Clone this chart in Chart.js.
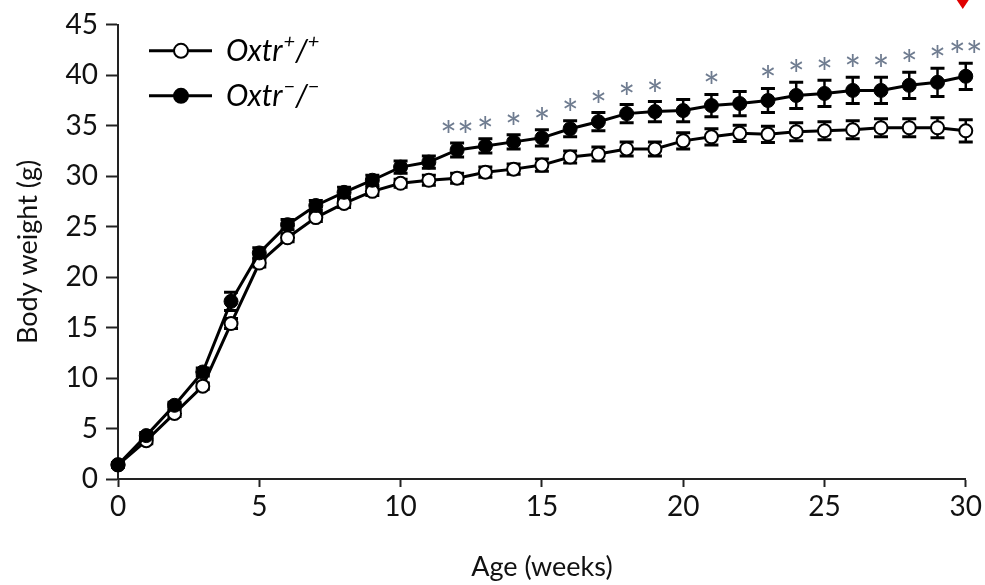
<!DOCTYPE html>
<html>
<head>
<meta charset="utf-8">
<script src="https://cdn.jsdelivr.net/npm/chart.js@4/dist/chart.umd.min.js"></script>
<style>
  html, body { margin: 0; padding: 0; background: #fff; }
  #chart { display: block; }
</style>
</head>
<body>
<canvas id="chart" width="985" height="585"></canvas>
<script>
// Data
const weeks = [0,1,2,3,4,5,6,7,8,9,10,11,12,13,14,15,16,17,18,19,20,21,22,23,24,25,26,27,28,29,30];
const wildType = [1.4, 3.8, 6.5, 9.2, 15.4, 21.4, 23.9, 25.9, 27.3, 28.5, 29.3, 29.6, 29.8, 30.4, 30.7, 31.1, 31.9, 32.2, 32.7, 32.7, 33.5, 33.9, 34.25, 34.15, 34.4, 34.5, 34.6, 34.8, 34.8, 34.8, 34.5];
const wildTypeErr = [0.2, 0.3, 0.3, 0.3, 0.5, 0.4, 0.4, 0.4, 0.4, 0.4, 0.4, 0.5, 0.5, 0.5, 0.5, 0.6, 0.6, 0.7, 0.7, 0.7, 0.8, 0.8, 0.8, 0.8, 0.9, 0.9, 0.9, 0.9, 0.9, 1.0, 1.1];
const knockout = [1.4, 4.3, 7.3, 10.6, 17.6, 22.4, 25.2, 27.1, 28.4, 29.6, 30.9, 31.4, 32.6, 33.0, 33.4, 33.8, 34.7, 35.4, 36.2, 36.4, 36.5, 37.0, 37.2, 37.5, 38.0, 38.2, 38.5, 38.5, 39.0, 39.3, 39.9];
const knockoutErr = [0.2, 0.3, 0.3, 0.4, 0.9, 0.5, 0.5, 0.5, 0.5, 0.5, 0.6, 0.6, 0.7, 0.7, 0.7, 0.8, 0.8, 0.9, 0.9, 1.0, 1.1, 1.1, 1.2, 1.2, 1.3, 1.3, 1.3, 1.3, 1.3, 1.4, 1.3];
const sigWeeks = [12, 13, 14, 15, 16, 17, 18, 19, 21, 23, 24, 25, 26, 27, 28, 29, 30];
const sigLabels = ['**', '*', '*', '*', '*', '*', '*', '*', '*', '*', '*', '*', '*', '*', '*', '*', '**'];
const xTicks = [0, 5, 10, 15, 20, 25, 30];
const yTicks = [0, 5, 10, 15, 20, 25, 30, 35, 40, 45];

const FONT = 'Lato, "Open Sans", sans-serif';

function toPoints(ys) {
    return weeks.map((w, i) => ({ x: w, y: ys[i] }));
}

// Error bars, drawn under the markers
const errorBars = {
    id: 'errorBars',
    beforeDatasetsDraw(chart) {
        const ctx = chart.ctx;
        const xs = chart.scales.x, ys = chart.scales.y;
        const sets = [[wildType, wildTypeErr], [knockout, knockoutErr]];
        ctx.save();
        ctx.strokeStyle = '#000';
        sets.forEach(([vals, errs]) => {
            weeks.forEach((w, i) => {
                const px = xs.getPixelForValue(w);
                const top = ys.getPixelForValue(vals[i] + errs[i]);
                const bot = ys.getPixelForValue(vals[i] - errs[i]);
                ctx.lineWidth = 2.5;
                ctx.beginPath();
                ctx.moveTo(px, top); ctx.lineTo(px, bot);
                ctx.stroke();
                ctx.lineWidth = 3;
                ctx.beginPath();
                ctx.moveTo(px - 7, top); ctx.lineTo(px + 7, top);
                ctx.moveTo(px - 7, bot); ctx.lineTo(px + 7, bot);
                ctx.stroke();
            });
        });
        ctx.restore();
    }
};

// Significance asterisks above the knockout error bars, plus legend
const extras = {
    id: 'extras',
    afterDatasetsDraw(chart) {
        const ctx = chart.ctx;
        const xs = chart.scales.x, ys = chart.scales.y;
        ctx.save();
        ctx.fillStyle = '#6f7c90';
        ctx.font = '40px ' + FONT;
        ctx.textAlign = 'center';
        ctx.textBaseline = 'alphabetic';
        sigWeeks.forEach((w, i) => {
            const idx = weeks.indexOf(w);
            const px = xs.getPixelForValue(w);
            const py = ys.getPixelForValue(knockout[idx] + knockoutErr[idx]);
            ctx.fillText(sigLabels[i], px, py + 8);
        });

        // red marker at the top right
        const rx = xs.getPixelForValue(30) - 3;
        ctx.fillStyle = '#e00000';
        ctx.beginPath();
        ctx.moveTo(rx - 6, 0); ctx.lineTo(rx + 6, 0); ctx.lineTo(rx, 9);
        ctx.closePath();
        ctx.fill();

        // legend
        const area = chart.chartArea;
        const lx = area.left + 31;
        const rows = [
            { y: area.top + 26, fill: '#fff', sup: '+' },
            { y: area.top + 71, fill: '#000', sup: '\u2212' }
        ];
        rows.forEach(r => {
            ctx.strokeStyle = '#000';
            ctx.lineWidth = 3;
            ctx.beginPath();
            ctx.moveTo(lx, r.y); ctx.lineTo(lx + 63, r.y);
            ctx.stroke();
            ctx.beginPath();
            ctx.arc(lx + 32, r.y, 7, 0, Math.PI * 2);
            ctx.fillStyle = r.fill;
            ctx.fill();
            ctx.lineWidth = 2;
            ctx.stroke();

            ctx.fillStyle = '#000';
            ctx.textAlign = 'left';
            ctx.textBaseline = 'middle';
            let tx = lx + 77;
            ctx.font = 'italic 30px ' + FONT;
            ctx.fillText('Oxtr', tx, r.y + 1);
            tx += ctx.measureText('Oxtr').width + 1;
            ctx.font = 'italic 20px ' + FONT;
            ctx.fillText(r.sup, tx, r.y - 9);
            tx += ctx.measureText(r.sup).width;
            ctx.font = 'italic 30px ' + FONT;
            ctx.fillText('/', tx, r.y + 1);
            tx += ctx.measureText('/').width;
            ctx.font = 'italic 20px ' + FONT;
            ctx.fillText(r.sup, tx, r.y - 9);
        });
        ctx.restore();
    }
};

new Chart(document.getElementById('chart'), {
    type: 'line',
    data: {
        datasets: [
            {
                label: 'Oxtr+/+',
                data: toPoints(wildType),
                borderColor: '#000',
                borderWidth: 3,
                pointRadius: 6.5,
                pointBorderWidth: 2,
                pointBackgroundColor: '#fff',
                pointBorderColor: '#000',
                tension: 0,
                clip: false,
                order: 2
            },
            {
                label: 'Oxtr-/-',
                data: toPoints(knockout),
                borderColor: '#000',
                borderWidth: 3,
                pointRadius: 7,
                pointBorderWidth: 1,
                pointBackgroundColor: '#000',
                pointBorderColor: '#000',
                tension: 0,
                clip: false,
                order: 1
            }
        ]
    },
    options: {
        responsive: false,
        animation: false,
        layout: { padding: { top: 22, right: 19, left: 0, bottom: 0 } },
        plugins: {
            legend: { display: false },
            tooltip: { enabled: false }
        },
        scales: {
            x: {
                type: 'linear',
                min: 0,
                max: 30,
                afterBuildTicks(scale) { scale.ticks = xTicks.map(v => ({ value: v })); },
                afterFit(scale) { scale.height = 106; },
                ticks: { color: '#111', font: { family: FONT, size: 28 }, padding: 3 },
                grid: { drawOnChartArea: false, tickLength: 8, tickColor: '#222', tickWidth: 2 },
                border: { color: '#222', width: 2 },
                title: {
                    display: true,
                    text: 'Age (weeks)',
                    color: '#111',
                    font: { family: FONT, size: 27 },
                    padding: { top: 0, bottom: 2 }
                }
            },
            y: {
                min: 0,
                max: 45,
                afterBuildTicks(scale) { scale.ticks = yTicks.map(v => ({ value: v })); },
                afterFit(scale) { scale.width = 118; },
                ticks: { color: '#111', font: { family: FONT, size: 28 }, padding: 8 },
                grid: { drawOnChartArea: false, tickLength: 12, tickColor: '#222', tickWidth: 2 },
                border: { color: '#222', width: 2 },
                title: {
                    display: true,
                    text: 'Body weight (g)',
                    color: '#111',
                    font: { family: FONT, size: 27 },
                    padding: { top: 12, bottom: 0 }
                }
            }
        }
    },
    plugins: [errorBars, extras]
});
</script>
</body>
</html>
